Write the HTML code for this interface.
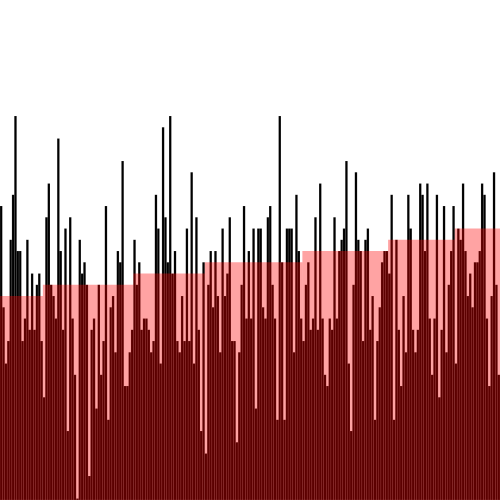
<!DOCTYPE html>
<html><head><meta charset="utf-8"><style>html,body{margin:0;padding:0;background:#fff}svg{display:block}</style></head>
<body>
<svg id="chart" width="500" height="500" viewBox="0 0 500 500" xmlns="http://www.w3.org/2000/svg"></svg>
<script>
const values = [26,17,12,14,23,27,34,22,22,14,16,23,15,20,15,19,20,14,9,25,28,19,18,16,32,22,15,24,6,25,16,11,0,23,20,21,19,2,15,16,8,19,11,14,26,7,17,18,13,22,21,30,10,
10,13,15,23,19,21,15,16,16,15,13,14,27,24,12,33,25,21,34,20,22,14,13,18,14,24,14,29,12,25,15,6,21,4,19,22,17,22,18,13,24,18,20,25,14,14,5,13,19,26,16,22,
16,24,8,24,24,17,16,25,26,19,16,7,34,21,7,24,24,24,13,27,22,16,14,19,21,15,16,25,15,28,16,11,10,16,15,25,16,22,23,24,30,12,6,19,29,23,22,14,23,24,15,18,
7,14,17,21,22,22,20,27,7,23,15,10,18,13,27,24,15,13,15,28,27,22,28,16,11,16,27,9,15,26,13,19,22,26,12,24,23,28,22,18,20,17,21,21,22,28,27,16,10,18,29,19,11];
const stepStarts = [0,18,56,86,127,163,191];
const stepLevels = [18,19,20,21,22,23,24];

const svg = document.getElementById('chart');
const NS = 'http://www.w3.org/2000/svg';
const W = 500, n = values.length, bw = W / n;
function xPos(i){ return i * bw; }
function yPos(v){ return 498.5 - v * 11.25; }

values.forEach((v, i) => {
  const r = document.createElementNS(NS, 'rect');
  r.setAttribute('x', xPos(i));
  r.setAttribute('y', yPos(v));
  r.setAttribute('width', bw);
  r.setAttribute('height', 500 - yPos(v));
  r.setAttribute('fill', '#000');
  r.setAttribute('stroke', 'rgba(255,255,255,0.3)');
  r.setAttribute('stroke-width', '0.4');
  
  
  svg.appendChild(r);
});

stepLevels.forEach((lv, k) => {
  const s = stepStarts[k];
  const e = k + 1 < stepStarts.length ? stepStarts[k + 1] : n;
  const r = document.createElementNS(NS, 'rect');
  r.setAttribute('x', xPos(s));
  r.setAttribute('y', yPos(lv));
  r.setAttribute('width', xPos(e) - xPos(s));
  r.setAttribute('height', 500 - yPos(lv));
  r.setAttribute('fill', 'rgba(255,0,0,0.36)');
  
  
  svg.appendChild(r);
});
</script>
</body></html>
